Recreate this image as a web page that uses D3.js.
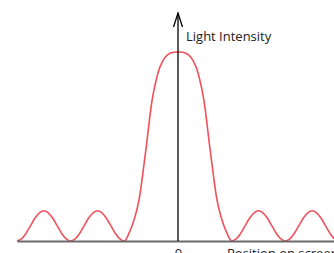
<!DOCTYPE html>
<html>
<head>
<meta charset="utf-8">
<script src="https://cdn.jsdelivr.net/npm/d3@7"></script>
<style>
  body { margin: 0; background: #fff; }
  svg { display: block; }
</style>
</head>
<body>
<svg id="app"></svg>
<script>
// intensity profile (position in units of the first minimum)
const positions = [-3, -2.917, -2.833, -2.75, -2.667, -2.583, -2.5, -2.417, -2.333, -2.25, -2.167, -2.083,
    -2, -1.917, -1.833, -1.75, -1.667, -1.583, -1.5, -1.417, -1.333, -1.25, -1.167, -1.083,
    -1, -0.9, -0.8, -0.727, -0.6, -0.48, -0.4, -0.33, -0.24, -0.15, 0,
    0.15, 0.24, 0.33, 0.4, 0.48, 0.6, 0.727, 0.8, 0.9, 1,
    1.083, 1.167, 1.25, 1.333, 1.417, 1.5, 1.583, 1.667, 1.75, 1.833, 1.917,
    2, 2.083, 2.167, 2.25, 2.333, 2.417, 2.5, 2.583, 2.667, 2.75, 2.833, 2.917, 3];
const intensity = [0, 0.011, 0.04, 0.08, 0.12, 0.149, 0.16, 0.149, 0.12, 0.08, 0.04, 0.011,
    0, 0.011, 0.04, 0.08, 0.12, 0.149, 0.16, 0.149, 0.12, 0.08, 0.04, 0.011,
    0, 0.05, 0.13, 0.217, 0.48, 0.75, 0.86, 0.925, 0.972, 0.993, 1,
    0.993, 0.972, 0.925, 0.86, 0.75, 0.48, 0.217, 0.13, 0.05, 0,
    0.011, 0.04, 0.08, 0.12, 0.149, 0.16, 0.149, 0.12, 0.08, 0.04, 0.011,
    0, 0.011, 0.04, 0.08, 0.12, 0.149, 0.16, 0.149, 0.12, 0.08, 0.04, 0.011, 0];
const xTicks = [0];
const yTitle = "Light Intensity";
const xTitle = "Position on screen";

const width = 334, height = 253;
const svg = d3.select("#app").attr("width", width).attr("height", height);

const x = d3.scaleLinear().domain([-3, 3]).range([17, 339]);
const y = d3.scaleLinear().domain([0, 1]).range([241, 52]);

const data = positions.map((p, i) => ({p: p, v: intensity[i]}));

// curve
svg.append("path")
    .datum(data)
    .attr("d", d3.line().x(d => x(d.p)).y(d => y(d.v)).curve(d3.curveCatmullRom.alpha(0.5)))
    .attr("fill", "none")
    .attr("stroke", "#f0525c")
    .attr("stroke-width", 1.6);

// horizontal axis
const xAxis = svg.append("g")
    .attr("transform", `translate(0,${y(0)})`)
    .call(d3.axisBottom(x).tickValues(xTicks).tickFormat(d3.format("d"))
        .tickSize(0).tickSizeOuter(0).tickPadding(7.5));
xAxis.select(".domain").attr("stroke", "#6a6a6a").attr("stroke-width", 2);
xAxis.selectAll("text")
    .attr("font-family", "Open Sans")
    .attr("font-size", 13)
    .attr("fill", "#222");

// vertical axis with open arrow
const x0 = x(0);
svg.append("line")
    .attr("x1", x0).attr("x2", x0)
    .attr("y1", y(0)).attr("y2", 13)
    .attr("stroke", "#000").attr("stroke-width", 1.3);
svg.append("path")
    .attr("d", `M ${x0 - 4.5} ${27} L ${x0} ${13} L ${x0 + 4.5} ${27}`)
    .attr("fill", "none")
    .attr("stroke", "#000")
    .attr("stroke-width", 1.3);

svg.append("text")
    .attr("x", 186)
    .attr("y", 41)
    .attr("font-family", "Open Sans")
    .attr("font-size", 13)
    .attr("fill", "#222")
    .text(yTitle);

svg.append("text")
    .attr("x", 227)
    .attr("y", y(0) + 17)
    .attr("font-family", "Open Sans")
    .attr("font-size", 13)
    .attr("fill", "#222")
    .text(xTitle);
</script>
</body>
</html>
